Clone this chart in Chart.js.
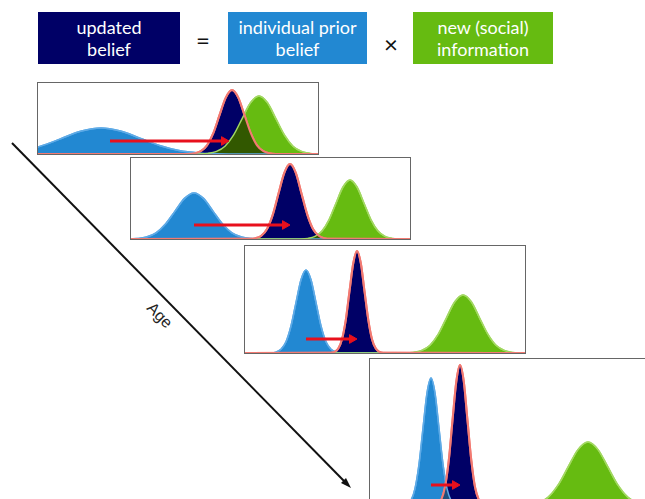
<!DOCTYPE html>
<html>
<head>
<meta charset="utf-8">
<script src="https://cdn.jsdelivr.net/npm/chart.js@4.4.1/dist/chart.umd.min.js"></script>
<style>
  body { margin: 0; width: 645px; height: 499px; overflow: hidden; background: #fff; position: relative; font-family: Lato, "Noto Sans", sans-serif; }
  .key { position: absolute; top: 12px; height: 52px; color: #fff; font-size: 18px; line-height: 22px; text-align: center; display: flex; align-items: center; justify-content: center; }
  .op { position: absolute; font-size: 24px; color: #111; line-height: 24px; }
  .panel { position: absolute; border: 1px solid #666; background: #fff; }
  .panel canvas { display: block; }
  svg { position: absolute; left: 0; top: 0; }
</style>
</head>
<body>
<div class="key" style="left:38px;width:142px;background:#000066;">updated<br>belief</div>
<div class="op" style="left:196px;top:28px;">=</div>
<div class="key" style="left:228px;width:139px;background:#2288d2;">individual prior<br>belief</div>
<div class="op" style="left:384px;top:32px;">×</div>
<div class="key" style="left:413px;width:140px;background:#66bb11;">new (social)<br>information</div>

<svg width="645" height="499">
  <line x1="12" y1="143" x2="345" y2="482" stroke="#111" stroke-width="2"/>
  <polygon points="351,488 341,483 346,478" fill="#111"/>
  <text x="0" y="0" font-family="'Liberation Sans', Arial, sans-serif" font-size="16" fill="#222" text-anchor="middle" dominant-baseline="middle" transform="translate(159 316) rotate(45.5)">Age</text>
</svg>

<div class="panel" style="left:37px;top:82px;"><canvas id="p1"></canvas></div>
<div class="panel" style="left:130px;top:157px;"><canvas id="p2"></canvas></div>
<div class="panel" style="left:244px;top:245px;"><canvas id="p3"></canvas></div>
<div class="panel" style="left:369px;top:358px;"><canvas id="p4"></canvas></div>

<script>
// belief distributions, [position, density] (youngest first)
const prior1 = [[0,7],[12,11.1],[24,15.8],[43.5,22.9],[63,26],[82.5,22.9],[102,15.8],[121.5,8.5],[141,3.5],[160.5,1.1],[180,0.3],[200,0],[280,0]];
const updated1 = [[0,0],[150,0.1],[156.5,0.7],[162.8,2.8],[169,8.6],[175.3,20.8],[181.5,38.8],[187.8,56.4],[194,64],[200.3,56.4],[206.5,38.8],[212.8,20.8],[219,8.6],[225.3,2.8],[231.5,0.7],[237.8,0.1],[280,0]];
const social1 = [[0,0],[161.5,0.1],[170,0.6],[178.5,2.6],[187,7.8],[195.5,18.9],[204,35.2],[212.5,51.2],[221,58],[229.5,51.2],[238,35.2],[246.5,18.9],[255,7.8],[263.5,2.6],[272,0.6],[280,0.1]];
const shift1 = [[72,13],[186,13]];

const prior2 = [[0,0.2],[6,0.5],[15.5,2],[25,6.2],[34.5,15],[44,27.9],[53.5,40.6],[63,46],[72.5,40.6],[82,27.9],[91.5,15],[101,6.2],[110.5,2],[120,0.5],[129.5,0.1],[279,0]];
const updated2 = [[0,0],[118.8,0.2],[124.5,0.8],[130.3,3.3],[136,10.1],[141.8,24.4],[147.5,45.5],[153.3,66.2],[159,75],[164.8,66.2],[170.5,45.5],[176.3,24.4],[182,10.1],[187.8,3.3],[193.5,0.8],[199.3,0.2],[279,0]];
const social2 = [[0,0],[170,0.1],[177,0.6],[184,2.6],[191,8],[198,19.2],[205,35.8],[212,52],[219,59],[226,52],[233,35.8],[240,19.2],[247,8],[254,2.6],[261,0.6],[268,0.1],[279,0]];
const shift2 = [[63,14],[154,14]];

const prior3 = [[0,0],[26,0.2],[31,0.9],[36,3.7],[41,11.2],[46,27],[51,50.4],[56,73.2],[61,83],[66,73.2],[71,50.4],[76,27],[81,11.2],[86,3.7],[91,0.9],[96,0.2],[280,0]];
const updated3 = [[0,0],[85.8,0.2],[89.5,1.1],[93.3,4.5],[97,13.8],[100.8,33.2],[104.5,61.9],[108.3,90],[112,102],[115.8,90],[119.5,61.9],[123.3,33.2],[127,13.8],[130.8,4.5],[134.5,1.1],[138.3,0.2],[280,0]];
const social3 = [[0,0],[160.3,0.1],[168.5,0.6],[176.8,2.6],[185,7.8],[193.3,18.9],[201.5,35.2],[209.8,51.2],[218,58],[226.3,51.2],[234.5,35.2],[242.8,18.9],[251,7.8],[259.3,2.6],[267.5,0.6],[275.8,0.1],[280,0]];
const shift3 = [[61,14],[107,14]];

const prior4 = [[0,0],[33,0.3],[37,1.4],[41,5.6],[45,17.3],[49,41.6],[53,77.7],[57,112.9],[61,128],[65,112.9],[69,77.7],[73,41.6],[77,17.3],[81,5.6],[85,1.4],[89,0.3],[280,0]];
const updated4 = [[0,0],[63.8,0.3],[67.5,1.6],[71.3,6.2],[75,19],[78.8,45.8],[82.5,85.6],[86.3,124.4],[90,141],[93.8,124.4],[97.5,85.6],[101.3,45.8],[105,19],[108.8,6.2],[112.5,1.6],[116.3,0.3],[280,0]];
const social4 = [[0,0],[148,0.1],[158,0.7],[168,2.8],[178,8.6],[188,20.8],[198,38.8],[208,56.4],[218,64],[228,56.4],[238,38.8],[248,20.8],[258,8.6],[268,2.8],[278,0.7],[280,0.5]];
const shift4 = [[61,21],[85,21]];

// traces the filled area under one dataset
function areaPath(ctx, chart, idx) {
    const meta = chart.getDatasetMeta(idx);
    const pts = meta.data;
    const base = chart.scales.y.getPixelForValue(0);
    ctx.beginPath();
    meta.dataset.path(ctx);
    ctx.lineTo(pts[pts.length - 1].x, base);
    ctx.lineTo(pts[0].x, base);
    ctx.closePath();
}

// darker fill where two beliefs overlap, drawn right after the updated belief
const overlapPlugin = {
    id: 'overlap',
    afterDatasetDraw(chart, args) {
        if (args.index !== 1) return;
        const ctx = chart.ctx;
        [[2, '#325800'], [3, '#1d4f7e']].forEach(([other, color]) => {
            ctx.save();
            areaPath(ctx, chart, 1);
            ctx.clip();
            areaPath(ctx, chart, other);
            ctx.fillStyle = color;
            ctx.fill();
            ctx.restore();
        });
        [3, 2, 1].forEach(i => chart.getDatasetMeta(i).dataset.draw(ctx, chart.chartArea));
    }
};

function makePanel(id, w, h, prior, updated, social, shift) {
    const canvas = document.getElementById(id);
    canvas.width = w;
    canvas.height = h;
    const pts = a => a.map(p => ({ x: p[0], y: p[1] }));
    const curve = { fill: 'origin', pointRadius: 0, cubicInterpolationMode: 'monotone' };
    new Chart(canvas, {
        type: 'line',
        data: {
            datasets: [
                { data: pts(shift), borderColor: '#e8101c', borderWidth: 3, fill: false,
                  pointRadius: [0, 5], pointStyle: 'triangle', pointRotation: 90,
                  pointBackgroundColor: '#e8101c', pointBorderColor: '#e8101c', pointBorderWidth: 1 },
                { ...curve, data: pts(updated), borderColor: '#f27a72', borderWidth: 2, backgroundColor: '#000066' },
                { ...curve, data: pts(social), borderColor: '#a2d862', borderWidth: 1.5, backgroundColor: '#66bb11' },
                { ...curve, data: pts(prior), borderColor: '#5eaae6', borderWidth: 1.5, backgroundColor: '#2288d2' }
            ]
        },
        options: {
            responsive: false,
            animation: false,
            events: [],
            layout: { padding: 0, autoPadding: false },
            scales: {
                x: { type: 'linear', min: 0, max: w, display: false },
                y: { min: 0, max: h, display: false }
            },
            plugins: { legend: { display: false }, tooltip: { enabled: false } }
        },
        plugins: [overlapPlugin]
    });
}

makePanel('p1', 280, 71, prior1, updated1, social1, shift1);
makePanel('p2', 279, 81, prior2, updated2, social2, shift2);
makePanel('p3', 280, 107, prior3, updated3, social3, shift3);
makePanel('p4', 280, 147, prior4, updated4, social4, shift4);
</script>
</body>
</html>
